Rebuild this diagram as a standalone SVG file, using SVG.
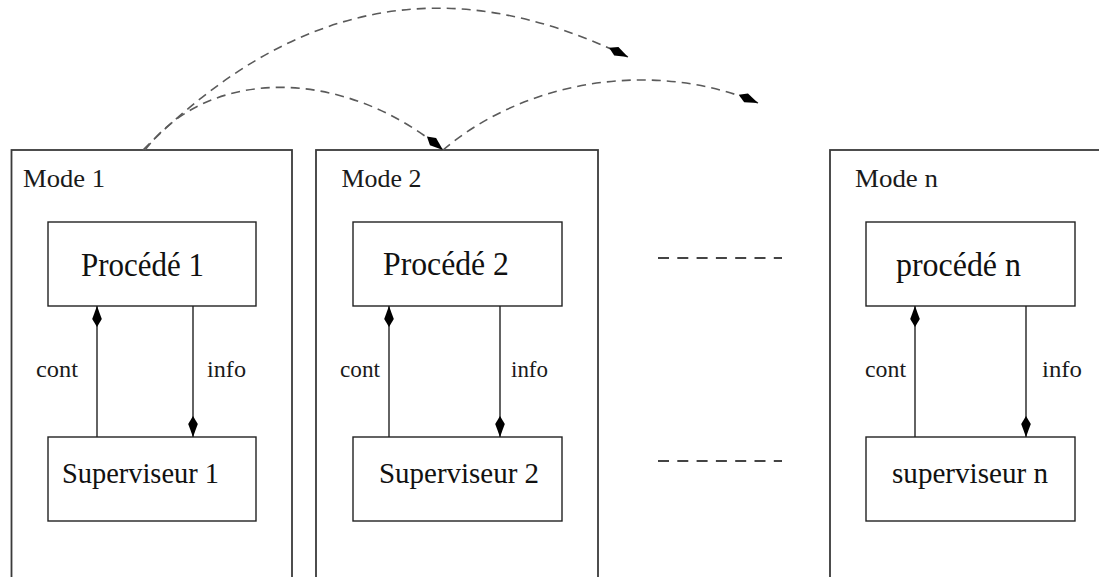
<svg xmlns="http://www.w3.org/2000/svg" width="1099" height="577" viewBox="0 0 1099 577">
  <style>
    .mode { fill: none; stroke: #3a3a3a; stroke-width: 1.8; }
    .box { fill: #ffffff; stroke: #222222; stroke-width: 1.4; }
    .t-mode { font-family: "Liberation Serif", "Times New Roman", serif; font-size: 25px; fill: #1a1a1a; }
    .t-box { font-family: "Liberation Serif", "Times New Roman", serif; font-size: 33px; fill: #111111; }
    .t-sup { font-family: "Liberation Serif", "Times New Roman", serif; font-size: 30px; fill: #111111; }
    .t-lbl { font-family: "Liberation Serif", "Times New Roman", serif; font-size: 24px; fill: #1a1a1a; }
    .flow { fill: none; stroke: #222222; stroke-width: 1.4; }
    .jump { fill: none; stroke: #5a5a5a; stroke-width: 1.6; stroke-dasharray: 9 6; }
    .gap { fill: none; stroke: #444444; stroke-width: 2; stroke-dasharray: 11 8.3; }
  </style>
  <defs>
    <marker id="kite" viewBox="0 0 21 11" refX="21" refY="5.5" markerWidth="21" markerHeight="11" markerUnits="userSpaceOnUse" orient="auto">
      <path d="M21,5.5 L8,0.7 L0,5.5 L8,10.3 Z" fill="#000000"/>
    </marker>
  </defs>

  <!-- mode 1 -->
  <g id="mode1">
    <rect class="mode" x="11.5" y="150" width="280.5" height="440"/>
    <text class="t-mode" x="23" y="187" textLength="82" lengthAdjust="spacingAndGlyphs">Mode 1</text>
  </g>
  <g id="procede1">
    <rect class="box" x="48" y="222" width="208" height="84"/>
    <text class="t-box" x="81" y="276" textLength="123" lengthAdjust="spacingAndGlyphs">Procédé 1</text>
  </g>
  <g id="superviseur1">
    <rect class="box" x="48" y="437" width="208" height="84"/>
    <text class="t-sup" x="62" y="483" textLength="157" lengthAdjust="spacingAndGlyphs">Superviseur 1</text>
  </g>

  <!-- mode 2 -->
  <g id="mode2">
    <rect class="mode" x="316" y="150" width="282" height="440"/>
    <text class="t-mode" x="341.5" y="187" textLength="80" lengthAdjust="spacingAndGlyphs">Mode 2</text>
  </g>
  <g id="procede2">
    <rect class="box" x="353" y="222" width="209" height="84"/>
    <text class="t-box" x="383" y="275" textLength="126" lengthAdjust="spacingAndGlyphs">Procédé 2</text>
  </g>
  <g id="superviseur2">
    <rect class="box" x="353" y="437" width="209" height="84"/>
    <text class="t-sup" x="379" y="483" textLength="160" lengthAdjust="spacingAndGlyphs">Superviseur 2</text>
  </g>

  <!-- mode n -->
  <g id="moden">
    <rect class="mode" x="830" y="150" width="290" height="440"/>
    <text class="t-mode" x="855" y="187" textLength="83" lengthAdjust="spacingAndGlyphs">Mode n</text>
  </g>
  <g id="procheden">
    <rect class="box" x="866" y="222" width="209" height="84"/>
    <text class="t-box" x="896" y="276" textLength="125" lengthAdjust="spacingAndGlyphs">procédé n</text>
  </g>
  <g id="superviseurn">
    <rect class="box" x="866" y="437" width="209" height="84"/>
    <text class="t-sup" x="892" y="483" textLength="156" lengthAdjust="spacingAndGlyphs">superviseur n</text>
  </g>

  <!-- ellipsis between mode 2 and mode n -->
  <g id="ellipsis">
    <line class="gap" x1="658" y1="258" x2="782" y2="258"/>
    <line class="gap" x1="658" y1="461" x2="782" y2="461"/>
  </g>

  <!-- connectors -->
  <g id="connectors">
    <path class="flow" d="M97,437 V306" marker-end="url(#kite)"/>
    <path class="flow" d="M193,306 V437" marker-end="url(#kite)"/>
    <path class="flow" d="M389,437 V306" marker-end="url(#kite)"/>
    <path class="flow" d="M500,306 V437" marker-end="url(#kite)"/>
    <path class="flow" d="M915,437 V306" marker-end="url(#kite)"/>
    <path class="flow" d="M1026,306 V437" marker-end="url(#kite)"/>
    <text class="t-lbl" x="36" y="377" textLength="42" lengthAdjust="spacingAndGlyphs">cont</text>
    <text class="t-lbl" x="207" y="377" textLength="39" lengthAdjust="spacingAndGlyphs">info</text>
    <text class="t-lbl" x="340" y="377" textLength="40" lengthAdjust="spacingAndGlyphs">cont</text>
    <text class="t-lbl" x="511" y="377" textLength="37" lengthAdjust="spacingAndGlyphs">info</text>
    <text class="t-lbl" x="865" y="377" textLength="41" lengthAdjust="spacingAndGlyphs">cont</text>
    <text class="t-lbl" x="1042" y="377" textLength="40" lengthAdjust="spacingAndGlyphs">info</text>

    <!-- mode transitions -->
    <path class="jump" d="M143,150 C293,0 448,-31 628,57" marker-end="url(#kite)"/>
    <path class="jump" d="M145,150 C210,65 345,68 443,150" marker-end="url(#kite)"/>
    <path class="jump" d="M443,150 C528,78 658,60 758,103" marker-end="url(#kite)"/>
  </g>
</svg>
